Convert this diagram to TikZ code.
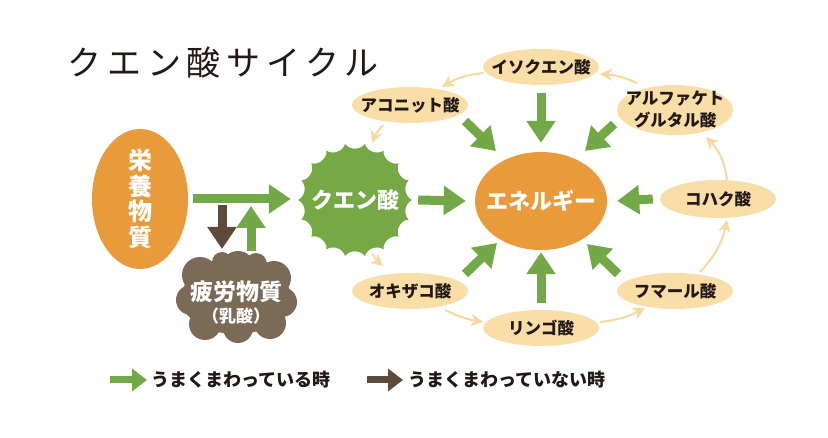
\documentclass[tikz,border=0pt]{standalone}
\usepackage{fontspec}
\setmainfont{Noto Sans CJK JP}
\newfontfamily\ttlfont[LetterSpace=17]{Noto Sans CJK JP}
\usetikzlibrary{shapes.geometric,arrows.meta,calc}
\definecolor{corange}{HTML}{E99A3B}
\definecolor{cgreen}{HTML}{72A845}
\definecolor{cburst}{HTML}{76A945}
\definecolor{cbrown}{HTML}{5E4A3B}
\definecolor{ccloud}{HTML}{7A6A56}
\definecolor{ctan}{HTML}{F9DEA7}
\definecolor{ctanarrow}{HTML}{F8D8A0}
\definecolor{ctext}{HTML}{231815}
\begin{document}
\begin{tikzpicture}[x=1pt,y=1pt,
  tanE/.style={ellipse, fill=ctan, minimum width=116pt, minimum height=36pt, inner sep=0pt},
  tanlbl/.style={font=\fontsize{16.5}{22}\selectfont\bfseries, text=ctext, align=center, inner sep=0pt},
  whitelbl/.style={font=\fontsize{22}{22}\selectfont\bfseries, text=white, align=center, inner sep=0pt},
  garrow/.style={draw=cgreen, line width=9pt, -{Triangle[length=22pt,width=28pt]}},
  barrow/.style={draw=cbrown, line width=9pt, -{Triangle[length=22pt,width=28pt]}},
  glegend/.style={draw=cgreen, line width=7pt, -{Triangle[length=15pt,width=22pt]}},
  blegend/.style={draw=cbrown, line width=7pt, -{Triangle[length=15pt,width=22pt]}},
  tarrow/.style={draw=ctanarrow, line width=2pt, -{Stealth[length=12pt,width=12pt,inset=3.5pt]}},
  legtext/.style={anchor=west, font=\fontsize{18}{18}\selectfont\bfseries, text=ctext, inner sep=0pt}
]
\useasboundingbox (0,0) rectangle (828,-438);

% title
\node[font=\ttlfont\fontsize{34}{34}\selectfont, text=ctext, inner sep=0pt] (title) at (223,-63) {クエン酸サイクル};

% nutrient ellipse
\node[ellipse, fill=corange, minimum width=96pt, minimum height=140pt, inner sep=0pt,
  label={[whitelbl, font=\fontsize{24}{25.5}\selectfont\bfseries]center:栄\\養\\物\\質}] (eiyo) at (140,-199) {};

% fatigue cloud
\fill[ccloud] (236,-298) ellipse [x radius=55, y radius=36];
\foreach \cx/\cy/\r in {200/-275/18, 238/-268/17, 274/-278/17, 191/-300/15, 282/-302/15, 205/-324/16, 238/-328/15, 270/-323/16, 222/-262/10, 256/-264/11}
  \fill[ccloud] (\cx,\cy) circle [radius=\r];
\node[text=white, align=center, inner sep=0pt, font=\bfseries] (hiro) at (236,-303)
  {\fontsize{23}{23}\selectfont 疲労物質\\[4pt]\fontsize{17}{18}\selectfont （乳酸）};

% citric acid starburst
\fill[cburst] (355,-200) ++(0:57)
  \foreach \i in {1,...,18} {
    .. controls ($(355,-200)+({(\i-0.5)*20-6}:50)$) and ($(355,-200)+({(\i-0.5)*20+6}:50)$) .. ($(355,-200)+({\i*20}:57)$)
  } -- cycle;
\node[circle, minimum size=114pt, inner sep=0pt, text=white, font=\fontsize{22}{22}\selectfont\bfseries] (kuen) at (355,-200) {クエン酸};

% energy
\node[ellipse, fill=corange, minimum width=132pt, minimum height=98pt, inner sep=0pt,
  label={[whitelbl]center:エネルギー}] (ene) at (541,-201) {};

% cycle members
\node[tanE, label={[tanlbl]center:イソクエン酸}] (iso) at (541,-67) {};
\node[tanE, label={[tanlbl]center:アコニット酸}] (aco) at (410,-105) {};
\node[tanE, minimum height=50pt, label={[tanlbl]center:アルファケト\\グルタル酸}] (alpha) at (675,-110) {};
\node[tanE, minimum height=38pt, label={[tanlbl]center:コハク酸}] (koh) at (718,-199) {};
\node[tanE, label={[tanlbl]center:フマール酸}] (fum) at (675,-291) {};
\node[tanE, label={[tanlbl]center:リンゴ酸}] (ringo) at (541,-328) {};
\node[tanE, label={[tanlbl]center:オキザコ酸}] (oki) at (410,-291) {};

% cycle arrows
\draw[tarrow] ([shift={(-58,-6)}]iso.center) to[bend right=12] ([shift={(32,18)}]aco.center);
\draw[tarrow] ([shift={(-38,27)}]alpha.center) to[bend right=10] ([shift={(59,-7)}]iso.center);
\draw[tarrow] ([shift={(9,19)}]koh.center) to[bend right=18] ([shift={(31,-27)}]alpha.center);
\draw[tarrow] ([shift={(25,19)}]fum.center) to[bend right=15] ([shift={(9,-21)}]koh.center);
\draw[tarrow] ([shift={(59,6)}]ringo.center) to[bend right=10] ([shift={(-30,-17)}]fum.center);
\draw[tarrow] ([shift={(35,-19)}]oki.center) to[bend right=8] ([shift={(-58,6)}]ringo.center);
\draw[tarrow] ([shift={(17,-53)}]kuen.center) to[bend right=10] ([shift={(-27,25)}]oki.center);
\draw[tarrow] ([shift={(-27,-20)}]aco.center) to[bend right=10] ([shift={(17,57)}]kuen.center);

% main green arrows
\draw[garrow] ([xshift=5pt]eiyo.east) -- ([xshift=-7pt]kuen.west |- eiyo.east);
\coordinate (dtop) at (222,-205);
\coordinate (dbot) at (222,-249);
\draw[barrow] (dtop) -- (dbot);
\coordinate (ubot) at (251,-251);
\coordinate (utop) at (251,-206);
\draw[garrow] (ubot) -- (utop);
\draw[garrow] ([xshift=6pt]kuen.east) -- ([xshift=-9pt]ene.west);

% arrows into energy
\draw[garrow] ([yshift=-8pt]iso.south) -- ([yshift=9pt]ene.north);
\draw[garrow] ([yshift=7pt]ringo.north) -- ([yshift=-2pt]ene.south);
\draw[garrow] ([xshift=-7pt]koh.west) -- ([xshift=10pt]ene.east);
\draw[garrow] ([shift={(55,-16)}]aco.center) -- ([shift={(-45,50)}]ene.center);
\draw[garrow] ([shift={(-61,-14)}]alpha.center) -- ([shift={(44,50)}]ene.center);
\draw[garrow] ([shift={(-57,17)}]fum.center) -- ([shift={(46,-43)}]ene.center);
\draw[garrow] ([shift={(55,17)}]oki.center) -- ([shift={(-44,-42)}]ene.center);

% legend
\node[legtext] (leg1) at (151,-380) {うまくまわっている時};
\coordinate (lg1) at (110,-380);
\draw[glegend] (lg1) -- ([xshift=-4pt]leg1.west);
\node[legtext] (leg2) at (408,-380) {うまくまわっていない時};
\coordinate (lg2) at (367,-380);
\draw[blegend] (lg2) -- ([xshift=-5pt]leg2.west);
\end{tikzpicture}
\end{document}
